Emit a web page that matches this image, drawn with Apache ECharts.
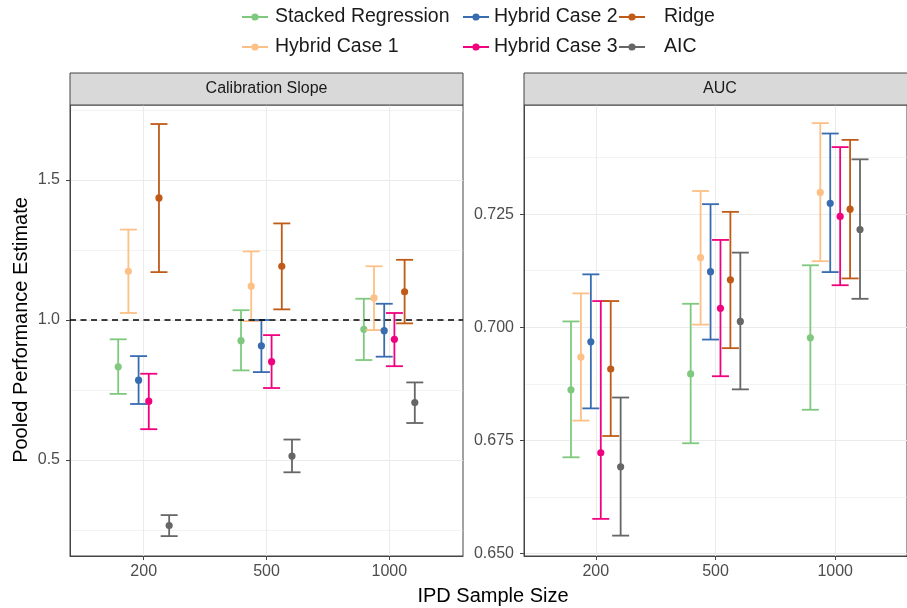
<!DOCTYPE html>
<html>
<head>
<meta charset="utf-8">
<script src="https://cdn.jsdelivr.net/npm/echarts@6/dist/echarts.min.js"></script>
<style>
html,body{margin:0;padding:0;background:#fff;}
#chart{width:907px;height:608px;}
</style>
</head>
<body>
<div id="chart"></div>
<script>
// ---------- DATA ----------
const categories = ['200', '500', '1000'];
const seriesNames = ['Stacked Regression', 'Hybrid Case 1', 'Hybrid Case 2', 'Hybrid Case 3', 'Ridge', 'AIC'];
const panelTitles = ['Calibration Slope', 'AUC'];

// Calibration slope: rows = series (in seriesNames order), cols = categories
const slopeMean = [
  [0.833, 0.926, 0.967],
  [1.174, 1.121, 1.079],
  [0.785, 0.908, 0.962],
  [0.710, 0.851, 0.931],
  [1.436, 1.192, 1.101],
  [0.266, 0.514, 0.705]
];
const slopeLow = [
  [0.736, 0.820, 0.857],
  [1.025, 0.996, 0.964],
  [0.700, 0.814, 0.869],
  [0.610, 0.757, 0.835],
  [1.171, 1.038, 0.988],
  [0.228, 0.456, 0.632]
];
const slopeHigh = [
  [0.931, 1.035, 1.076],
  [1.323, 1.245, 1.192],
  [0.871, 1.000, 1.058],
  [0.808, 0.946, 1.025],
  [1.700, 1.345, 1.215],
  [0.303, 0.573, 0.777]
];

// AUC
const aucMean = [
  [0.6862, 0.6897, 0.6977],
  [0.6934, 0.7154, 0.7298],
  [0.6968, 0.7123, 0.7274],
  [0.6723, 0.7042, 0.7245],
  [0.6908, 0.7105, 0.7261],
  [0.6692, 0.7013, 0.7216]
];
const aucLow = [
  [0.6713, 0.6744, 0.6818],
  [0.6794, 0.7006, 0.7146],
  [0.6821, 0.6973, 0.7122],
  [0.6577, 0.6892, 0.7093],
  [0.6760, 0.6954, 0.7108],
  [0.6540, 0.6863, 0.7063]
];
const aucHigh = [
  [0.7013, 0.7052, 0.7137],
  [0.7075, 0.7301, 0.7451],
  [0.7117, 0.7272, 0.7428],
  [0.7058, 0.7193, 0.7398],
  [0.7058, 0.7255, 0.7414],
  [0.6845, 0.7165, 0.7371]
];

const slopeTicks = [0.5, 1.0, 1.5];
const slopeMinor = [0.25, 0.75, 1.25, 1.75];
const aucTicks = [0.650, 0.675, 0.700, 0.725];
const aucMinor = [0.6625, 0.6875, 0.7125, 0.7375];
const referenceSlope = 1.0;

// ---------- STYLE ----------
const colors = ['#7fc97f', '#fdc086', '#386cb0', '#f0027f', '#bf5b17', '#666666'];
const FONT = '"Liberation Sans", Arial, Helvetica, sans-serif';
const DODGE = 0.083;
const CAP_HALF = 8.5;
const LW = 1.8;
const PT_R = 3.6;
const GRID_COLOR = '#ebebeb';
const BORDER = '#444';

const chart = echarts.init(document.getElementById('chart'), null, {renderer: 'canvas'});

function renderErr(params, api) {
  const x = api.value(0), lo = api.value(1), hi = api.value(2), m = api.value(3);
  const pLo = api.coord([x, lo]);
  const pHi = api.coord([x, hi]);
  const pM = api.coord([x, m]);
  const color = api.visual('color');
  const st = {stroke: color, lineWidth: LW};
  return {
    type: 'group',
    children: [
      {type: 'line', shape: {x1: pLo[0], y1: pLo[1], x2: pHi[0], y2: pHi[1]}, style: st},
      {type: 'line', shape: {x1: pLo[0] - CAP_HALF, y1: pLo[1], x2: pLo[0] + CAP_HALF, y2: pLo[1]}, style: st},
      {type: 'line', shape: {x1: pHi[0] - CAP_HALF, y1: pHi[1], x2: pHi[0] + CAP_HALF, y2: pHi[1]}, style: st},
      {type: 'circle', shape: {cx: pM[0], cy: pM[1], r: PT_R}, style: {fill: color}}
    ]
  };
}

function buildData(mean, low, high, s) {
  return categories.map((c, i) => [i + 1 + (s - 2.5) * DODGE, low[s][i], high[s][i], mean[s][i]]);
}

const series = [];
// dashed reference line
series.push({
  type: 'line', xAxisIndex: 0, yAxisIndex: 0, data: [], silent: true,
  markLine: {
    silent: true, symbol: ['none', 'none'], label: {show: false},
    lineStyle: {color: '#000', type: [6, 4.5], width: 1.5},
    data: [{yAxis: referenceSlope}]
  }
});
seriesNames.forEach((name, s) => {
  series.push({
    name: name, type: 'custom', xAxisIndex: 0, yAxisIndex: 0,
    itemStyle: {color: colors[s]},
    renderItem: renderErr,
    encode: {x: 0, y: [1, 2, 3]},
    data: buildData(slopeMean, slopeLow, slopeHigh, s),
    z: 3
  });
  series.push({
    name: name, type: 'custom', xAxisIndex: 1, yAxisIndex: 2,
    itemStyle: {color: colors[s]},
    renderItem: renderErr,
    encode: {x: 0, y: [1, 2, 3]},
    data: buildData(aucMean, aucLow, aucHigh, s),
    z: 3
  });
});

function xAxis(gridIndex) {
  return {
    type: 'value', gridIndex: gridIndex, min: 0.4, max: 3.6,
    axisLine: {show: true, onZero: false, lineStyle: {color: BORDER, width: 1}},
    axisTick: {show: true, length: 4, lineStyle: {color: BORDER}, customValues: [1, 2, 3]},
    axisLabel: {
      customValues: [1, 2, 3], margin: 8, color: '#4d4d4d', fontSize: 16, fontFamily: FONT,
      formatter: v => categories[Math.round(v) - 1]
    },
    splitLine: {show: true, lineStyle: {color: GRID_COLOR, width: 1}}
  };
}
function yAxisMajor(gridIndex, min, max, ticks, dec, margin) {
  return {
    type: 'value', gridIndex: gridIndex, min: min, max: max, position: 'left',
    axisLine: {show: true, onZero: false, lineStyle: {color: BORDER, width: 1}},
    axisTick: {show: true, length: 4, lineStyle: {color: BORDER}, customValues: ticks},
    axisLabel: {
      customValues: ticks, margin: margin, color: '#4d4d4d', fontSize: 16, fontFamily: FONT,
      formatter: v => v.toFixed(dec)
    },
    splitLine: {show: true, lineStyle: {color: GRID_COLOR, width: 1}}
  };
}
function yAxisMinor(gridIndex, min, max, ticks) {
  return {
    type: 'value', gridIndex: gridIndex, min: min, max: max, position: 'right',
    axisLine: {show: false},
    axisTick: {show: false, customValues: ticks},
    axisLabel: {show: false, customValues: ticks},
    splitLine: {show: true, lineStyle: {color: GRID_COLOR, width: 0.6}}
  };
}

function legendItem(name, s, left, top, textPad) {
  return {
    data: [name], left: left, top: top, padding: 0, orient: 'horizontal',
    itemWidth: 26, itemHeight: 8, selectedMode: false,
    icon: 'path://M0,3 L9.5,3 L9.5,5 L0,5 Z M16.5,3 L26,3 L26,5 L16.5,5 Z M13,0.4 A3.6,3.6 0 1 1 12.99,0.4 Z',
    itemStyle: {color: colors[s]},
    textStyle: {fontSize: 19.5, fontFamily: FONT, color: '#1a1a1a', lineHeight: 24, padding: [0, 0, 0, textPad]}
  };
}

const legendPos = [
  [242, 5, 2], [242, 35, 2],
  [463, 5, 0], [463, 35, 0],
  [619, 5, 14], [619, 35, 14]
];

const option = {
  backgroundColor: '#fff',
  animation: false,
  textStyle: {fontFamily: FONT},
  legend: seriesNames.map((n, s) => legendItem(n, s, legendPos[s][0], legendPos[s][1], legendPos[s][2])),
  grid: [
    {left: 70, top: 105, width: 393, height: 451, show: true, borderColor: BORDER, borderWidth: 1},
    {left: 524, top: 105, width: 392, height: 451, show: true, borderColor: BORDER, borderWidth: 1}
  ],
  xAxis: [xAxis(0), xAxis(1)],
  yAxis: [
    yAxisMajor(0, 0.157, 1.768, slopeTicks, 1, 10),
    yAxisMinor(0, 0.157, 1.768, slopeMinor),
    yAxisMajor(1, 0.6495, 0.7491, aucTicks, 3, 10),
    yAxisMinor(1, 0.6495, 0.7491, aucMinor)
  ],
  graphic: [
    {type: 'rect', shape: {x: 70, y: 73, width: 393, height: 32}, style: {fill: '#d9d9d9', stroke: BORDER, lineWidth: 1}, z: 10},
    {type: 'rect', shape: {x: 524, y: 73, width: 392, height: 32}, style: {fill: '#d9d9d9', stroke: BORDER, lineWidth: 1}, z: 10},
    {type: 'text', x: 266.5, y: 89, z: 11, style: {text: panelTitles[0], fill: '#1a1a1a', fontSize: 16, fontFamily: FONT, align: 'center', verticalAlign: 'middle'}},
    {type: 'text', x: 720, y: 89, z: 11, style: {text: panelTitles[1], fill: '#1a1a1a', fontSize: 16, fontFamily: FONT, align: 'center', verticalAlign: 'middle'}},
    {type: 'text', x: 493, y: 596, z: 11, style: {text: 'IPD Sample Size', fill: '#000', fontSize: 20, fontFamily: FONT, align: 'center', verticalAlign: 'middle'}},
    {type: 'text', x: 21, y: 330, rotation: Math.PI / 2, z: 11, style: {text: 'Pooled Performance Estimate', fill: '#000', fontSize: 20, fontFamily: FONT, align: 'center', verticalAlign: 'middle'}}
  ],
  series: series
};

chart.setOption(option);
</script>
</body>
</html>
